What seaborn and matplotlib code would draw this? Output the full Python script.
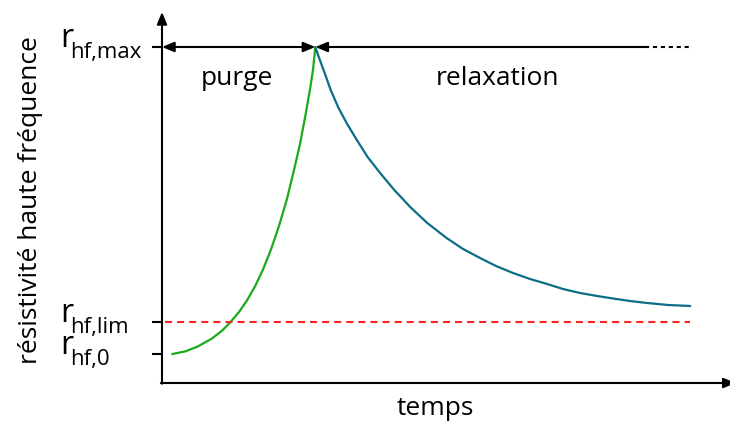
import matplotlib
matplotlib.use("Agg")
import matplotlib.pyplot as plt
import matplotlib.transforms as mtransforms
import pandas as pd
import seaborn as sns

# --- data (time in arbitrary units, resistivity in arbitrary units) ---
R0 = 0.29      # initial high-frequency resistivity
RLIM = 0.61    # limit resistivity
RMAX = 3.36    # maximum resistivity reached at the end of the purge
T_PEAK = 2.70  # end of purge / start of relaxation

purge_t = [0.18, 0.41, 0.63, 0.88, 1.06, 1.20, 1.36, 1.50, 1.64, 1.78,
           1.92, 2.06, 2.20, 2.32, 2.43, 2.52, 2.61, 2.66, 2.70]
purge_r = [0.29, 0.316, 0.365, 0.445, 0.525, 0.605, 0.713, 0.829, 0.969,
           1.137, 1.337, 1.57, 1.84, 2.12, 2.39, 2.66, 2.95, 3.14, 3.36]

relax_t = [2.70, 2.76, 2.87, 2.97, 3.10, 3.25, 3.43, 3.62, 3.84, 4.09,
           4.37, 4.67, 5.01, 5.30, 5.60, 5.88, 6.18, 6.48, 6.78, 7.06,
           7.36, 7.66, 7.94, 8.24, 8.54, 8.91, 9.30]
relax_r = [3.36, 3.26, 3.09, 2.93, 2.76, 2.60, 2.43, 2.26, 2.10, 1.93,
           1.76, 1.60, 1.45, 1.34, 1.25, 1.17, 1.10, 1.04, 0.99, 0.94,
           0.90, 0.87, 0.845, 0.82, 0.80, 0.78, 0.77]

lim_span = [0.05, 9.30]       # extent of the limit line
max_solid_end = 8.50          # max line: solid part ends here, dotted after
max_dotted_end = 9.30

ytick_vals = [R0, RLIM, RMAX]
ytick_subs = ["hf,0", "hf,lim", "hf,max"]
phase_labels = ["purge", "relaxation"]
phase_x = [1.32, 5.90]

purge_df = pd.DataFrame({"temps": purge_t, "r": purge_r})
relax_df = pd.DataFrame({"temps": relax_t, "r": relax_r})

# --- style ---
sns.set_style("white")
plt.rcParams["font.family"] = ["Open Sans", "DejaVu Sans"]
plt.rcParams["text.color"] = "black"

GREEN = "#1aab1a"
TEAL = "#0b6d86"
RED = "#ff2222"

fig = plt.figure(figsize=(7.30, 4.23), dpi=100)
ax = fig.add_axes([162 / 730, 40 / 423, 568 / 730, 371 / 423])
ax.set_xlim(0, 10)
ax.set_ylim(0, 3.71)

# curves
sns.lineplot(data=purge_df, x="temps", y="r", ax=ax, color=GREEN, lw=1.6,
             sort=False, estimator=None)
sns.lineplot(data=relax_df, x="temps", y="r", ax=ax, color=TEAL, lw=1.6,
             sort=False, estimator=None)

# limit line
ax.plot(lim_span, [RLIM, RLIM], color=RED, lw=1.5, dashes=(3.4, 2.4))

# maximum line with phase arrows
ax.plot([max_solid_end, max_dotted_end], [RMAX, RMAX], color="black",
        lw=1.5, dashes=(2.0, 1.8))
head = "head_length=0.6,head_width=0.25"
ax.annotate("", xy=(T_PEAK, RMAX), xytext=(0, RMAX),
            arrowprops=dict(arrowstyle="<|-|>," + head, lw=1.5,
                            color="black", shrinkA=0, shrinkB=0,
                            mutation_scale=12))
ax.annotate("", xy=(T_PEAK, RMAX), xytext=(max_solid_end, RMAX),
            arrowprops=dict(arrowstyle="-|>," + head, lw=1.5,
                            color="black", shrinkA=0, shrinkB=0,
                            mutation_scale=12))

for lab, x in zip(phase_labels, phase_x):
    ax.text(x, 2.98, lab, ha="center", va="baseline", fontsize=19,
            color="black")

# axes drawn as arrows
for spine in ax.spines.values():
    spine.set_visible(False)
ax.annotate("", xy=(1.01, 0), xytext=(-0.002, 0), xycoords="axes fraction",
            arrowprops=dict(arrowstyle="-|>," + head, lw=1.5, color="black",
                            shrinkA=0, shrinkB=0, mutation_scale=12))
ax.annotate("", xy=(0, 1.0), xytext=(0, -0.002), xycoords="axes fraction",
            arrowprops=dict(arrowstyle="-|>," + head, lw=1.5, color="black",
                            shrinkA=0, shrinkB=0, mutation_scale=12))

# y ticks with r_hf labels
ax.set_xticks([])
ax.set_yticks(ytick_vals)
ax.set_yticklabels([])
ax.tick_params(axis="y", left=True, length=7, width=1.5, color="black",
               direction="out")
ytr = ax.get_yaxis_transform()
r_tr = mtransforms.offset_copy(ytr, fig=fig, y=0, units="dots")
s_tr = mtransforms.offset_copy(ytr, fig=fig, y=-11, units="dots")
for val, sub in zip(ytick_vals, ytick_subs):
    ax.text(-0.180, val, "r", transform=r_tr, fontsize=23, ha="left",
            va="baseline", color="black", clip_on=False)
    ax.text(-0.161, val, sub, transform=s_tr, fontsize=16, ha="left",
            va="baseline", color="black", clip_on=False)

# axis titles
ax.text(4.81, -0.32, "temps", ha="center", va="baseline", fontsize=19,
        color="black", clip_on=False)
ax.text(-0.232, 0.493, "résistivité haute fréquence", transform=ax.transAxes,
        rotation=90, ha="center", va="center", fontsize=19, color="black",
        clip_on=False)
ax.set_xlabel("")
ax.set_ylabel("")

fig.savefig("out.png", dpi=100)
